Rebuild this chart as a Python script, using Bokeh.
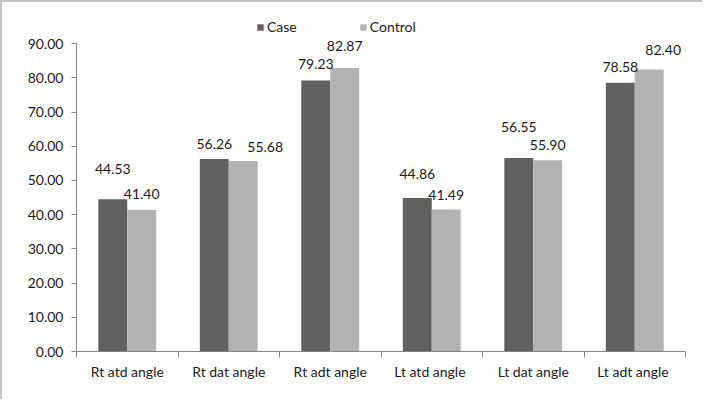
from bokeh.plotting import figure
from bokeh.models import (Range1d, FixedTicker, ColumnDataSource, LabelSet, Legend,
                          LegendItem, NumeralTickFormatter)
from bokeh.core.properties import value
from bokeh.embed import file_html
from bokeh.resources import INLINE

categories = ["Rt atd angle", "Rt dat angle", "Rt adt angle",
              "Lt  atd angle", "Lt dat angle", "Lt  adt angle"]
case_values = [44.53, 56.26, 79.23, 44.86, 56.55, 78.58]
control_values = [41.40, 55.68, 82.87, 41.49, 55.90, 82.40]
y_ticks = [0, 10, 20, 30, 40, 50, 60, 70, 80, 90]

# label placement styles (screen px)
case_label_dy = [30, 15, 16, 24, 31, 16]
case_label_dx = [0, 0, 0, 0, 0, 0]
control_label_dy = [16, 14, 22, 15, 15, 20]
control_label_dx = [0, 22, 0, 0, 0, 14]

CASE_COLOR = "#606060"
CONTROL_COLOR = "#b2b2b2"
TEXT_COLOR = "#1a1a1a"
FONT = "Lato"
FS = "14px"

n = len(categories)
BAR_W = 0.285
centers = [i + 0.5 for i in range(n)]

case_src = ColumnDataSource(dict(
    x=[c - BAR_W / 2 for c in centers], top=case_values,
    lbl=["%.2f" % v for v in case_values],
    dy=case_label_dy, dx=case_label_dx))
ctrl_src = ColumnDataSource(dict(
    x=[c + BAR_W / 2 for c in centers], top=control_values,
    lbl=["%.2f" % v for v in control_values],
    dy=control_label_dy, dx=control_label_dx))

W, H = 702, 399
p = figure(width=W, height=H, output_backend="svg", toolbar_location=None,
           x_range=Range1d(0, n), y_range=Range1d(0, 98.5),
           min_border_left=74, min_border_right=W - 683,
           min_border_top=12, min_border_bottom=H - 349)
p.styles = {"border-top": "2px solid #c4c4c4", "border-left": "2px solid #c4c4c4"}
p.outline_line_color = None
p.xgrid.visible = False
p.ygrid.visible = False

r_case = p.vbar(x="x", top="top", width=BAR_W, source=case_src,
                fill_color=CASE_COLOR, line_color=None)
r_ctrl = p.vbar(x="x", top="top", width=BAR_W, source=ctrl_src,
                fill_color=CONTROL_COLOR, line_color=None)

for src in (case_src, ctrl_src):
    labels = LabelSet(x="x", y="top", text="lbl", source=src,
                      y_offset="dy", x_offset="dx",
                      text_align="center", text_baseline="middle",
                      text_font=value(FONT), text_font_size=value(FS),
                      text_color=value(TEXT_COLOR))
    p.add_layout(labels)

# y axis
ya = p.yaxis[0]
ya.ticker = FixedTicker(ticks=y_ticks)
ya.bounds = (0, 90)
ya.formatter = NumeralTickFormatter(format="0.00")
ya.major_tick_out = 5
ya.major_tick_in = 0
ya.minor_tick_out = 0
ya.minor_tick_in = 0
ya.major_label_standoff = 8
ya.axis_line_color = "#868686"
ya.major_tick_line_color = "#868686"
ya.major_label_text_font = FONT
ya.major_label_text_font_size = FS
ya.major_label_text_color = TEXT_COLOR

# x axis: labels at category centers, tick marks at boundaries
xa = p.xaxis[0]
xa.ticker = FixedTicker(ticks=centers, minor_ticks=list(range(n + 1)))
xa.major_label_overrides = {c: categories[i] for i, c in enumerate(centers)}
xa.major_tick_out = 0
xa.major_tick_in = 0
xa.minor_tick_out = 6
xa.minor_tick_in = 0
xa.minor_tick_line_color = "#868686"
xa.axis_line_color = "#868686"
xa.major_label_standoff = 5
xa.major_label_text_font = FONT
xa.major_label_text_font_size = FS
xa.major_label_text_color = TEXT_COLOR

legend = Legend(items=[LegendItem(label="Case", renderers=[r_case]),
                       LegendItem(label="Control", renderers=[r_ctrl])],
                orientation="horizontal", location=(180, 316),
                glyph_width=8, glyph_height=8, label_standoff=3, spacing=62,
                padding=0, margin=0, border_line_color=None,
                background_fill_alpha=0,
                label_text_font=FONT, label_text_font_size=FS,
                label_text_color=TEXT_COLOR)
p.add_layout(legend, "center")

open("out.html", "w").write(file_html(p, INLINE))
